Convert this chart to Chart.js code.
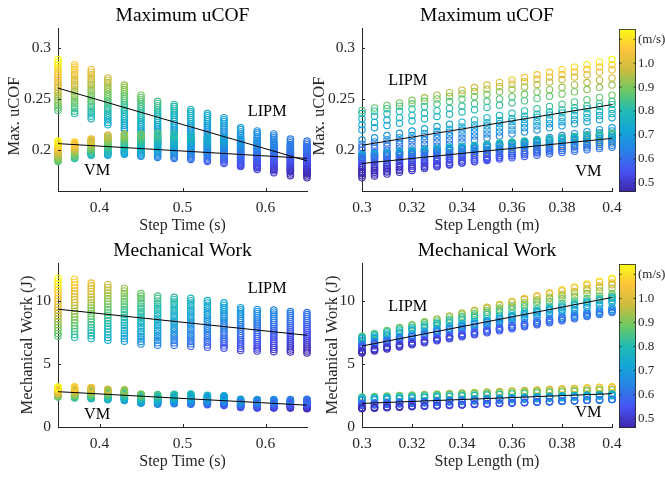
<!DOCTYPE html>
<html lang="en">
<head>
<meta charset="UTF-8">
<title>Maximum uCOF and Mechanical Work</title>
<script src="https://cdn.jsdelivr.net/npm/chart.js"></script>
<style>
    body { margin: 0; background: #fff; }
    #fig { position: relative; width: 665px; height: 478px; overflow: hidden; }
    canvas { position: absolute; }
</style>
</head>
<body>
<div id="fig">
    <canvas id="cofTime" width="330" height="235" style="left:0;top:0"></canvas>
    <canvas id="cofLength" width="360" height="235" style="left:305px;top:0"></canvas>
    <canvas id="workTime" width="330" height="243" style="left:0;top:235px"></canvas>
    <canvas id="workLength" width="360" height="243" style="left:305px;top:235px"></canvas>
</div>

<script>
    // grid of simulated gaits: one row per step time, one column per step length
    const stepTimes = [0.35, 0.37, 0.39, 0.41, 0.43, 0.45, 0.47, 0.49, 0.51, 0.53, 0.55, 0.57, 0.59, 0.61, 0.63, 0.65];
    const stepLengths = [0.3, 0.305, 0.31, 0.315, 0.32, 0.325, 0.33, 0.335, 0.34, 0.345, 0.35,
                         0.355, 0.36, 0.365, 0.37, 0.375, 0.38, 0.385, 0.39, 0.395, 0.4];

    const lipmCof = [
        [0.239,0.2415,0.244,0.2465,0.249,0.2515,0.254,0.2565,0.259,0.2615,0.264,0.2665,0.269,0.2715,0.274,0.2765,0.279,0.2815,0.284,0.2865,0.289],
        [0.236,0.2384,0.2408,0.2432,0.2456,0.248,0.2504,0.2528,0.2552,0.2576,0.26,0.2624,0.2648,0.2672,0.2696,0.272,0.2744,0.2768,0.2792,0.2816,0.284],
        [0.231,0.2334,0.2358,0.2382,0.2406,0.243,0.2454,0.2478,0.2502,0.2526,0.255,0.2574,0.2598,0.2622,0.2646,0.267,0.2694,0.2718,0.2742,0.2766,0.279],
        [0.225,0.2273,0.2296,0.2319,0.2342,0.2365,0.2388,0.2411,0.2434,0.2457,0.248,0.2503,0.2526,0.2549,0.2572,0.2595,0.2618,0.2641,0.2664,0.2687,0.271],
        [0.22,0.2222,0.2244,0.2266,0.2288,0.231,0.2332,0.2354,0.2376,0.2398,0.242,0.2442,0.2464,0.2486,0.2508,0.253,0.2552,0.2574,0.2596,0.2618,0.264],
        [0.21,0.2122,0.2144,0.2166,0.2188,0.221,0.2232,0.2254,0.2276,0.2298,0.232,0.2342,0.2364,0.2386,0.2408,0.243,0.2452,0.2474,0.2496,0.2518,0.254],
        [0.206,0.2081,0.2102,0.2123,0.2144,0.2165,0.2186,0.2207,0.2228,0.2249,0.227,0.2291,0.2312,0.2333,0.2354,0.2375,0.2396,0.2417,0.2438,0.2459,0.248],
        [0.203,0.2051,0.2072,0.2093,0.2114,0.2135,0.2156,0.2177,0.2198,0.2219,0.224,0.2261,0.2282,0.2303,0.2324,0.2345,0.2366,0.2387,0.2408,0.2429,0.245],
        [0.2,0.202,0.204,0.206,0.208,0.21,0.212,0.214,0.216,0.218,0.22,0.222,0.224,0.226,0.228,0.23,0.232,0.234,0.236,0.238,0.24],
        [0.196,0.198,0.2,0.202,0.204,0.206,0.208,0.21,0.212,0.214,0.216,0.218,0.22,0.222,0.224,0.226,0.228,0.23,0.232,0.234,0.236],
        [0.192,0.194,0.196,0.198,0.2,0.202,0.204,0.206,0.208,0.21,0.212,0.214,0.216,0.218,0.22,0.222,0.224,0.226,0.228,0.23,0.232],
        [0.184,0.1859,0.1878,0.1897,0.1916,0.1935,0.1954,0.1973,0.1992,0.2011,0.203,0.2049,0.2068,0.2087,0.2106,0.2125,0.2144,0.2163,0.2182,0.2201,0.222],
        [0.181,0.1829,0.1848,0.1867,0.1886,0.1905,0.1924,0.1943,0.1962,0.1981,0.2,0.2019,0.2038,0.2057,0.2076,0.2095,0.2114,0.2133,0.2152,0.2171,0.219],
        [0.178,0.1799,0.1818,0.1837,0.1856,0.1875,0.1894,0.1913,0.1932,0.1951,0.197,0.1989,0.2008,0.2027,0.2046,0.2065,0.2084,0.2103,0.2122,0.2141,0.216],
        [0.175,0.1768,0.1786,0.1804,0.1822,0.184,0.1858,0.1876,0.1894,0.1912,0.193,0.1948,0.1966,0.1984,0.2002,0.202,0.2038,0.2056,0.2074,0.2092,0.211],
        [0.173,0.1748,0.1766,0.1784,0.1802,0.182,0.1838,0.1856,0.1874,0.1892,0.191,0.1928,0.1946,0.1964,0.1982,0.2,0.2018,0.2036,0.2054,0.2072,0.209]
    ];

    const vmCof = [
        [0.189,0.19,0.191,0.192,0.193,0.194,0.195,0.196,0.197,0.198,0.199,0.2,0.201,0.202,0.203,0.204,0.205,0.206,0.207,0.208,0.209],
        [0.192,0.1928,0.1936,0.1944,0.1952,0.196,0.1968,0.1976,0.1984,0.1992,0.2,0.2008,0.2016,0.2024,0.2032,0.204,0.2048,0.2056,0.2064,0.2072,0.208],
        [0.195,0.1958,0.1966,0.1974,0.1982,0.199,0.1998,0.2006,0.2014,0.2022,0.203,0.2038,0.2046,0.2054,0.2062,0.207,0.2078,0.2086,0.2094,0.2102,0.211],
        [0.195,0.196,0.197,0.198,0.199,0.2,0.201,0.202,0.203,0.204,0.205,0.206,0.207,0.208,0.209,0.21,0.211,0.212,0.213,0.214,0.215],
        [0.196,0.197,0.198,0.199,0.2,0.201,0.202,0.203,0.204,0.205,0.206,0.207,0.208,0.209,0.21,0.211,0.212,0.213,0.214,0.215,0.216],
        [0.194,0.1951,0.1962,0.1973,0.1984,0.1995,0.2006,0.2017,0.2028,0.2039,0.205,0.2061,0.2072,0.2083,0.2094,0.2105,0.2116,0.2127,0.2138,0.2149,0.216],
        [0.193,0.1942,0.1954,0.1966,0.1978,0.199,0.2002,0.2014,0.2026,0.2038,0.205,0.2062,0.2074,0.2086,0.2098,0.211,0.2122,0.2134,0.2146,0.2158,0.217],
        [0.192,0.1932,0.1944,0.1956,0.1968,0.198,0.1992,0.2004,0.2016,0.2028,0.204,0.2052,0.2064,0.2076,0.2088,0.21,0.2112,0.2124,0.2136,0.2148,0.216],
        [0.191,0.1922,0.1934,0.1946,0.1958,0.197,0.1982,0.1994,0.2006,0.2018,0.203,0.2042,0.2054,0.2066,0.2078,0.209,0.2102,0.2114,0.2126,0.2138,0.215],
        [0.189,0.1902,0.1914,0.1926,0.1938,0.195,0.1962,0.1974,0.1986,0.1998,0.201,0.2022,0.2034,0.2046,0.2058,0.207,0.2082,0.2094,0.2106,0.2118,0.213],
        [0.187,0.1883,0.1896,0.1909,0.1922,0.1935,0.1948,0.1961,0.1974,0.1987,0.2,0.2013,0.2026,0.2039,0.2052,0.2065,0.2078,0.2091,0.2104,0.2117,0.213],
        [0.185,0.1863,0.1876,0.1889,0.1902,0.1915,0.1928,0.1941,0.1954,0.1967,0.198,0.1993,0.2006,0.2019,0.2032,0.2045,0.2058,0.2071,0.2084,0.2097,0.211],
        [0.183,0.1843,0.1856,0.1869,0.1882,0.1895,0.1908,0.1921,0.1934,0.1947,0.196,0.1973,0.1986,0.1999,0.2012,0.2025,0.2038,0.2051,0.2064,0.2077,0.209],
        [0.181,0.1823,0.1836,0.1849,0.1862,0.1875,0.1888,0.1901,0.1914,0.1927,0.194,0.1953,0.1966,0.1979,0.1992,0.2005,0.2018,0.2031,0.2044,0.2057,0.207],
        [0.179,0.1803,0.1816,0.1829,0.1842,0.1855,0.1868,0.1881,0.1894,0.1907,0.192,0.1933,0.1946,0.1959,0.1972,0.1985,0.1998,0.2011,0.2024,0.2037,0.205],
        [0.177,0.1783,0.1796,0.1809,0.1822,0.1835,0.1848,0.1861,0.1874,0.1887,0.19,0.1913,0.1926,0.1939,0.1952,0.1965,0.1978,0.1991,0.2004,0.2017,0.203]
    ];

    const lipmWork = [
        [7.19,7.42,7.65,7.88,8.11,8.34,8.57,8.8,9.03,9.26,9.49,9.72,9.95,10.18,10.41,10.64,10.87,11.1,11.33,11.56,11.79],
        [7.11,7.34,7.57,7.8,8.03,8.26,8.49,8.72,8.95,9.18,9.41,9.64,9.87,10.1,10.33,10.56,10.79,11.02,11.25,11.48,11.71],
        [7.01,7.23,7.45,7.67,7.89,8.11,8.33,8.55,8.77,8.99,9.21,9.43,9.65,9.87,10.09,10.31,10.53,10.75,10.97,11.19,11.41],
        [6.88,7.1,7.32,7.54,7.76,7.98,8.2,8.42,8.64,8.86,9.08,9.3,9.52,9.74,9.96,10.18,10.4,10.62,10.84,11.06,11.28],
        [6.8,7.01,7.22,7.43,7.64,7.85,8.06,8.27,8.48,8.69,8.9,9.11,9.32,9.53,9.74,9.95,10.16,10.37,10.58,10.79,11],
        [6.58,6.78,6.98,7.18,7.38,7.58,7.78,7.98,8.18,8.38,8.58,8.78,8.98,9.18,9.38,9.58,9.78,9.98,10.18,10.38,10.58],
        [6.48,6.675,6.87,7.065,7.26,7.455,7.65,7.845,8.04,8.235,8.43,8.625,8.82,9.015,9.21,9.405,9.6,9.795,9.99,10.185,10.38],
        [6.48,6.67,6.86,7.05,7.24,7.43,7.62,7.81,8,8.19,8.38,8.57,8.76,8.95,9.14,9.33,9.52,9.71,9.9,10.09,10.28],
        [6.4,6.59,6.78,6.97,7.16,7.35,7.54,7.73,7.92,8.11,8.3,8.49,8.68,8.87,9.06,9.25,9.44,9.63,9.82,10.01,10.2],
        [6.32,6.505,6.69,6.875,7.06,7.245,7.43,7.615,7.8,7.985,8.17,8.355,8.54,8.725,8.91,9.095,9.28,9.465,9.65,9.835,10.02],
        [6.24,6.42,6.6,6.78,6.96,7.14,7.32,7.5,7.68,7.86,8.04,8.22,8.4,8.58,8.76,8.94,9.12,9.3,9.48,9.66,9.84],
        [6.06,6.23,6.4,6.57,6.74,6.91,7.08,7.25,7.42,7.59,7.76,7.93,8.1,8.27,8.44,8.61,8.78,8.95,9.12,9.29,9.46],
        [6.02,6.185,6.35,6.515,6.68,6.845,7.01,7.175,7.34,7.505,7.67,7.835,8,8.165,8.33,8.495,8.66,8.825,8.99,9.155,9.32],
        [5.97,6.135,6.3,6.465,6.63,6.795,6.96,7.125,7.29,7.455,7.62,7.785,7.95,8.115,8.28,8.445,8.61,8.775,8.94,9.105,9.27],
        [5.95,6.11,6.27,6.43,6.59,6.75,6.91,7.07,7.23,7.39,7.55,7.71,7.87,8.03,8.19,8.35,8.51,8.67,8.83,8.99,9.15],
        [5.87,6.03,6.19,6.35,6.51,6.67,6.83,6.99,7.15,7.31,7.47,7.63,7.79,7.95,8.11,8.27,8.43,8.59,8.75,8.91,9.07]
    ];

    const vmWork = [
        [2.37,2.41,2.45,2.49,2.53,2.57,2.61,2.65,2.69,2.73,2.77,2.81,2.85,2.89,2.93,2.97,3.01,3.05,3.09,3.13,3.17],
        [2.29,2.335,2.38,2.425,2.47,2.515,2.56,2.605,2.65,2.695,2.74,2.785,2.83,2.875,2.92,2.965,3.01,3.055,3.1,3.145,3.19],
        [2.24,2.285,2.33,2.375,2.42,2.465,2.51,2.555,2.6,2.645,2.69,2.735,2.78,2.825,2.87,2.915,2.96,3.005,3.05,3.095,3.14],
        [2.16,2.202,2.244,2.286,2.328,2.37,2.412,2.454,2.496,2.538,2.58,2.622,2.664,2.706,2.748,2.79,2.832,2.874,2.916,2.958,3],
        [2.11,2.152,2.194,2.236,2.278,2.32,2.362,2.404,2.446,2.488,2.53,2.572,2.614,2.656,2.698,2.74,2.782,2.824,2.866,2.908,2.95],
        [1.89,1.926,1.962,1.998,2.034,2.07,2.106,2.142,2.178,2.214,2.25,2.286,2.322,2.358,2.394,2.43,2.466,2.502,2.538,2.574,2.61],
        [1.81,1.848,1.886,1.924,1.962,2,2.038,2.076,2.114,2.152,2.19,2.228,2.266,2.304,2.342,2.38,2.418,2.456,2.494,2.532,2.57],
        [1.84,1.878,1.916,1.954,1.992,2.03,2.068,2.106,2.144,2.182,2.22,2.258,2.296,2.334,2.372,2.41,2.448,2.486,2.524,2.562,2.6],
        [1.81,1.85,1.89,1.93,1.97,2.01,2.05,2.09,2.13,2.17,2.21,2.25,2.29,2.33,2.37,2.41,2.45,2.49,2.53,2.57,2.61],
        [1.76,1.798,1.836,1.874,1.912,1.95,1.988,2.026,2.064,2.102,2.14,2.178,2.216,2.254,2.292,2.33,2.368,2.406,2.444,2.482,2.52],
        [1.71,1.748,1.786,1.824,1.862,1.9,1.938,1.976,2.014,2.052,2.09,2.128,2.166,2.204,2.242,2.28,2.318,2.356,2.394,2.432,2.47],
        [1.55,1.582,1.614,1.646,1.678,1.71,1.742,1.774,1.806,1.838,1.87,1.902,1.934,1.966,1.998,2.03,2.062,2.094,2.126,2.158,2.19],
        [1.5,1.534,1.568,1.602,1.636,1.67,1.704,1.738,1.772,1.806,1.84,1.874,1.908,1.942,1.976,2.01,2.044,2.078,2.112,2.146,2.18],
        [1.5,1.534,1.568,1.602,1.636,1.67,1.704,1.738,1.772,1.806,1.84,1.874,1.908,1.942,1.976,2.01,2.044,2.078,2.112,2.146,2.18],
        [1.5,1.534,1.568,1.602,1.636,1.67,1.704,1.738,1.772,1.806,1.84,1.874,1.908,1.942,1.976,2.01,2.044,2.078,2.112,2.146,2.18],
        [1.45,1.487,1.524,1.561,1.598,1.635,1.672,1.709,1.746,1.783,1.82,1.857,1.894,1.931,1.968,2.005,2.042,2.079,2.116,2.153,2.19]
    ];

    // linear fits, end points [x0, y0, x1, y1]
    const fitCofTime = { lipm: [0.35, 0.261, 0.65, 0.1896], vm: [0.35, 0.2065, 0.65, 0.192] };
    const fitCofLength = { lipm: [0.3, 0.2049, 0.4, 0.2448], vm: [0.3, 0.187, 0.4, 0.2117] };
    const fitWorkTime = { lipm: [0.35, 9.34, 0.65, 7.27], vm: [0.35, 2.8, 0.65, 1.73] };
    const fitWorkLength = { lipm: [0.3, 6.42, 0.4, 10.27], vm: [0.3, 1.87, 0.4, 2.64] };

    const timeTicks = [0.4, 0.5, 0.6];
    const timeTickLabels = ['0.4', '0.5', '0.6'];
    const lengthTicks = [0.3, 0.32, 0.34, 0.36, 0.38, 0.4];
    const lengthTickLabels = ['0.3', '0.32', '0.34', '0.36', '0.38', '0.4'];
    const cofTicks = [0.2, 0.25, 0.3];
    const cofTickLabels = ['0.2', '0.25', '0.3'];
    const workTicks = [0, 5, 10];
    const workTickLabels = ['0', '5', '10'];
    const speedTicks = [0.5, 0.6, 0.7, 0.8, 0.9, 1.0, 1.1];
    const speedTickLabels = ['0.5', '0.6', '0.7', '0.8', '0.9', '1.0', '(m/s)'];

    const SERIF = '"Liberation Serif", "Times New Roman", serif';
    const INK = '#262626';
    const parula = ['#3e26a8', '#4852f3', '#2a80e6', '#12a5d8', '#22bbb2', '#6ec863', '#ccbc3e', '#fdc43b', '#f9fb14'];

    // walking speed = step length / step time, used only for colour
    const speedMin = stepLengths[0] / stepTimes[stepTimes.length - 1];
    const speedMax = stepLengths[stepLengths.length - 1] / stepTimes[0];

    function hexRgb(h) {
        return [parseInt(h.slice(1, 3), 16), parseInt(h.slice(3, 5), 16), parseInt(h.slice(5, 7), 16)];
    }

    function parulaColor(t) {
        t = Math.min(1, Math.max(0, t));
        const p = t * (parula.length - 1);
        const k = Math.min(parula.length - 2, Math.floor(p));
        const f = p - k;
        const a = hexRgb(parula[k]), b = hexRgb(parula[k + 1]);
        const c = a.map((v, i) => Math.round(v + (b[i] - v) * f));
        return `rgb(${c[0]},${c[1]},${c[2]})`;
    }

    function speedColor(i, j) {
        return parulaColor((stepLengths[j] / stepTimes[i] - speedMin) / (speedMax - speedMin));
    }

    function points(table, xAxis) {
        const pts = [], colors = [];
        stepTimes.forEach((t, i) => {
            stepLengths.forEach((l, j) => {
                pts.push({ x: xAxis === 'time' ? t : l, y: table[i][j] });
                colors.push(speedColor(i, j));
            });
        });
        return { pts, colors };
    }

    function drawColorbar(ctx, a) {
        const x0 = a.right + 7, w = 17, top = a.top + 1, bottom = a.bottom + 1;
        const grad = ctx.createLinearGradient(0, bottom, 0, top);
        parula.forEach((c, i) => grad.addColorStop(i / (parula.length - 1), c));
        ctx.fillStyle = grad;
        ctx.fillRect(x0, top, w, bottom - top);
        ctx.strokeStyle = INK;
        ctx.lineWidth = 0.8;
        ctx.strokeRect(x0 + 0.5, top + 0.5, w - 1, bottom - top - 1);
        ctx.font = `13px ${SERIF}`;
        ctx.fillStyle = INK;
        ctx.textAlign = 'left';
        ctx.textBaseline = 'middle';
        ctx.beginPath();
        speedTicks.forEach((v, k) => {
            const py = bottom - (v - speedMin) / (speedMax - speedMin) * (bottom - top);
            ctx.moveTo(x0, py); ctx.lineTo(x0 + 2.5, py);
            ctx.moveTo(x0 + w, py); ctx.lineTo(x0 + w - 2.5, py);
            ctx.fillText(speedTickLabels[k], x0 + w + 2, py);
        });
        ctx.stroke();
    }

    const figureText = {
        id: 'figureText',
        afterDraw(chart, args, o) {
            const { ctx, chartArea: a, scales: { x, y } } = chart;
            ctx.save();
            ctx.strokeStyle = INK;
            ctx.lineWidth = 1;
            ctx.beginPath();
            x.ticks.forEach(t => {
                const px = Math.round(x.getPixelForValue(t.value)) + 0.5;
                ctx.moveTo(px, a.bottom); ctx.lineTo(px, a.bottom - 3);
            });
            y.ticks.forEach(t => {
                const py = Math.round(y.getPixelForValue(t.value)) + 0.5;
                ctx.moveTo(a.left, py); ctx.lineTo(a.left + 3, py);
            });
            ctx.stroke();

            const cx = (a.left + a.right) / 2;
            ctx.textAlign = 'center';
            ctx.textBaseline = 'alphabetic';
            ctx.fillStyle = '#000';
            ctx.font = `19.5px ${SERIF}`;
            ctx.fillText(o.title, cx, 21);

            ctx.fillStyle = INK;
            ctx.font = `16px ${SERIF}`;
            ctx.fillText(o.xLabel, cx, a.bottom + 39);

            ctx.save();
            ctx.translate(o.yLabelX, o.yLabelY);
            ctx.rotate(-Math.PI / 2);
            ctx.textBaseline = 'middle';
            ctx.font = `16.5px ${SERIF}`;
            ctx.fillText(o.yLabel, 0, 0);
            ctx.restore();

            ctx.fillStyle = '#000';
            ctx.font = `16.3px ${SERIF}`;
            ctx.textBaseline = 'middle';
            o.notes.forEach(n => ctx.fillText(n.text, x.getPixelForValue(n.x), y.getPixelForValue(n.y)));

            if (o.colorbar) drawColorbar(ctx, a);
            ctx.restore();
        }
    };

    function fitLine(f) {
        return {
            data: [{ x: f[0], y: f[1] }, { x: f[2], y: f[3] }],
            showLine: true, borderColor: '#000', borderWidth: 1, pointRadius: 0, order: 0, clip: false
        };
    }

    function scatterSet(p, order) {
        return {
            data: p.pts, order: order, clip: false,
            pointRadius: 3.2, pointBorderWidth: 1.1,
            pointBackgroundColor: 'rgba(0,0,0,0)', pointBorderColor: p.colors
        };
    }

    function axis(min, max, ticks, labels, pad, fit) {
        return {
            type: 'linear', min: min, max: max,
            afterBuildTicks: s => { s.ticks = ticks.map(v => ({ value: v })); },
            afterFit: fit,
            grid: { display: false, drawTicks: false },
            border: { display: true, color: INK, width: 1 },
            ticks: {
                padding: pad, color: INK, font: { family: SERIF, size: 15.5 },
                callback: (v, i) => labels[i]
            }
        };
    }

    function makeChart(id, c) {
        const lipm = points(c.lipm, c.xAxis), vm = points(c.vm, c.xAxis);
        new Chart(document.getElementById(id), {
            type: 'scatter',
            data: {
                datasets: [fitLine(c.fit.lipm), fitLine(c.fit.vm), scatterSet(vm, 1), scatterSet(lipm, 2)]
            },
            options: {
                responsive: false,
                animation: false,
                devicePixelRatio: 1,
                events: [],
                layout: { padding: { left: 0, right: c.padRight, top: 28, bottom: 0 } },
                scales: {
                    x: axis(c.xMin, c.xMax, c.xTicks, c.xTickLabels, 8, s => { s.height = c.xHeight; }),
                    y: axis(c.yMin, c.yMax, c.yTicks, c.yTickLabels, 7, s => { s.width = c.yWidth; })
                },
                plugins: {
                    legend: { display: false },
                    tooltip: { enabled: false },
                    figureText: {
                        title: c.title, xLabel: c.xLabel, yLabel: c.yLabel,
                        yLabelX: c.yLabelX, yLabelY: c.yLabelY, notes: c.notes, colorbar: c.colorbar
                    }
                }
            },
            plugins: [figureText]
        });
    }

    const timeAxis = { xAxis: 'time', xMin: 0.35, xMax: 0.65, xTicks: timeTicks, xTickLabels: timeTickLabels,
                       xLabel: 'Step Time (s)', yWidth: 58, padRight: 23, colorbar: false };
    const lengthAxis = { xAxis: 'length', xMin: 0.3, xMax: 0.4, xTicks: lengthTicks, xTickLabels: lengthTickLabels,
                         xLabel: 'Step Length (m)', yWidth: 57, padRight: 53, colorbar: true };
    const cofAxis = { yMin: 0.16, yMax: 0.32, yTicks: cofTicks, yTickLabels: cofTickLabels, yLabel: 'Max. uCOF',
                      title: 'Maximum uCOF', xHeight: 44, yLabelX: 15, yLabelY: 116, lipm: lipmCof, vm: vmCof };
    const workAxis = { yMin: 0, yMax: 13, yTicks: workTicks, yTickLabels: workTickLabels, yLabel: 'Mechanical Work (J)',
                       title: 'Mechanical Work', xHeight: 51, yLabelX: 28, yLabelY: 110, lipm: lipmWork, vm: vmWork };

    makeChart('cofTime', Object.assign({}, timeAxis, cofAxis, { fit: fitCofTime,
        notes: [{ text: 'LIPM', x: 0.602, y: 0.238 }, { text: 'VM', x: 0.397, y: 0.1796 }] }));
    makeChart('cofLength', Object.assign({}, lengthAxis, cofAxis, { fit: fitCofLength,
        notes: [{ text: 'LIPM', x: 0.3183, y: 0.268 }, { text: 'VM', x: 0.3905, y: 0.1786 }] }));
    makeChart('workTime', Object.assign({}, timeAxis, workAxis, { fit: fitWorkTime,
        notes: [{ text: 'LIPM', x: 0.602, y: 10.93 }, { text: 'VM', x: 0.397, y: 0.99 }] }));
    makeChart('workLength', Object.assign({}, lengthAxis, workAxis, { fit: fitWorkLength,
        notes: [{ text: 'LIPM', x: 0.3183, y: 9.5 }, { text: 'VM', x: 0.3905, y: 1.1 }] }));
</script>
</body>
</html>
